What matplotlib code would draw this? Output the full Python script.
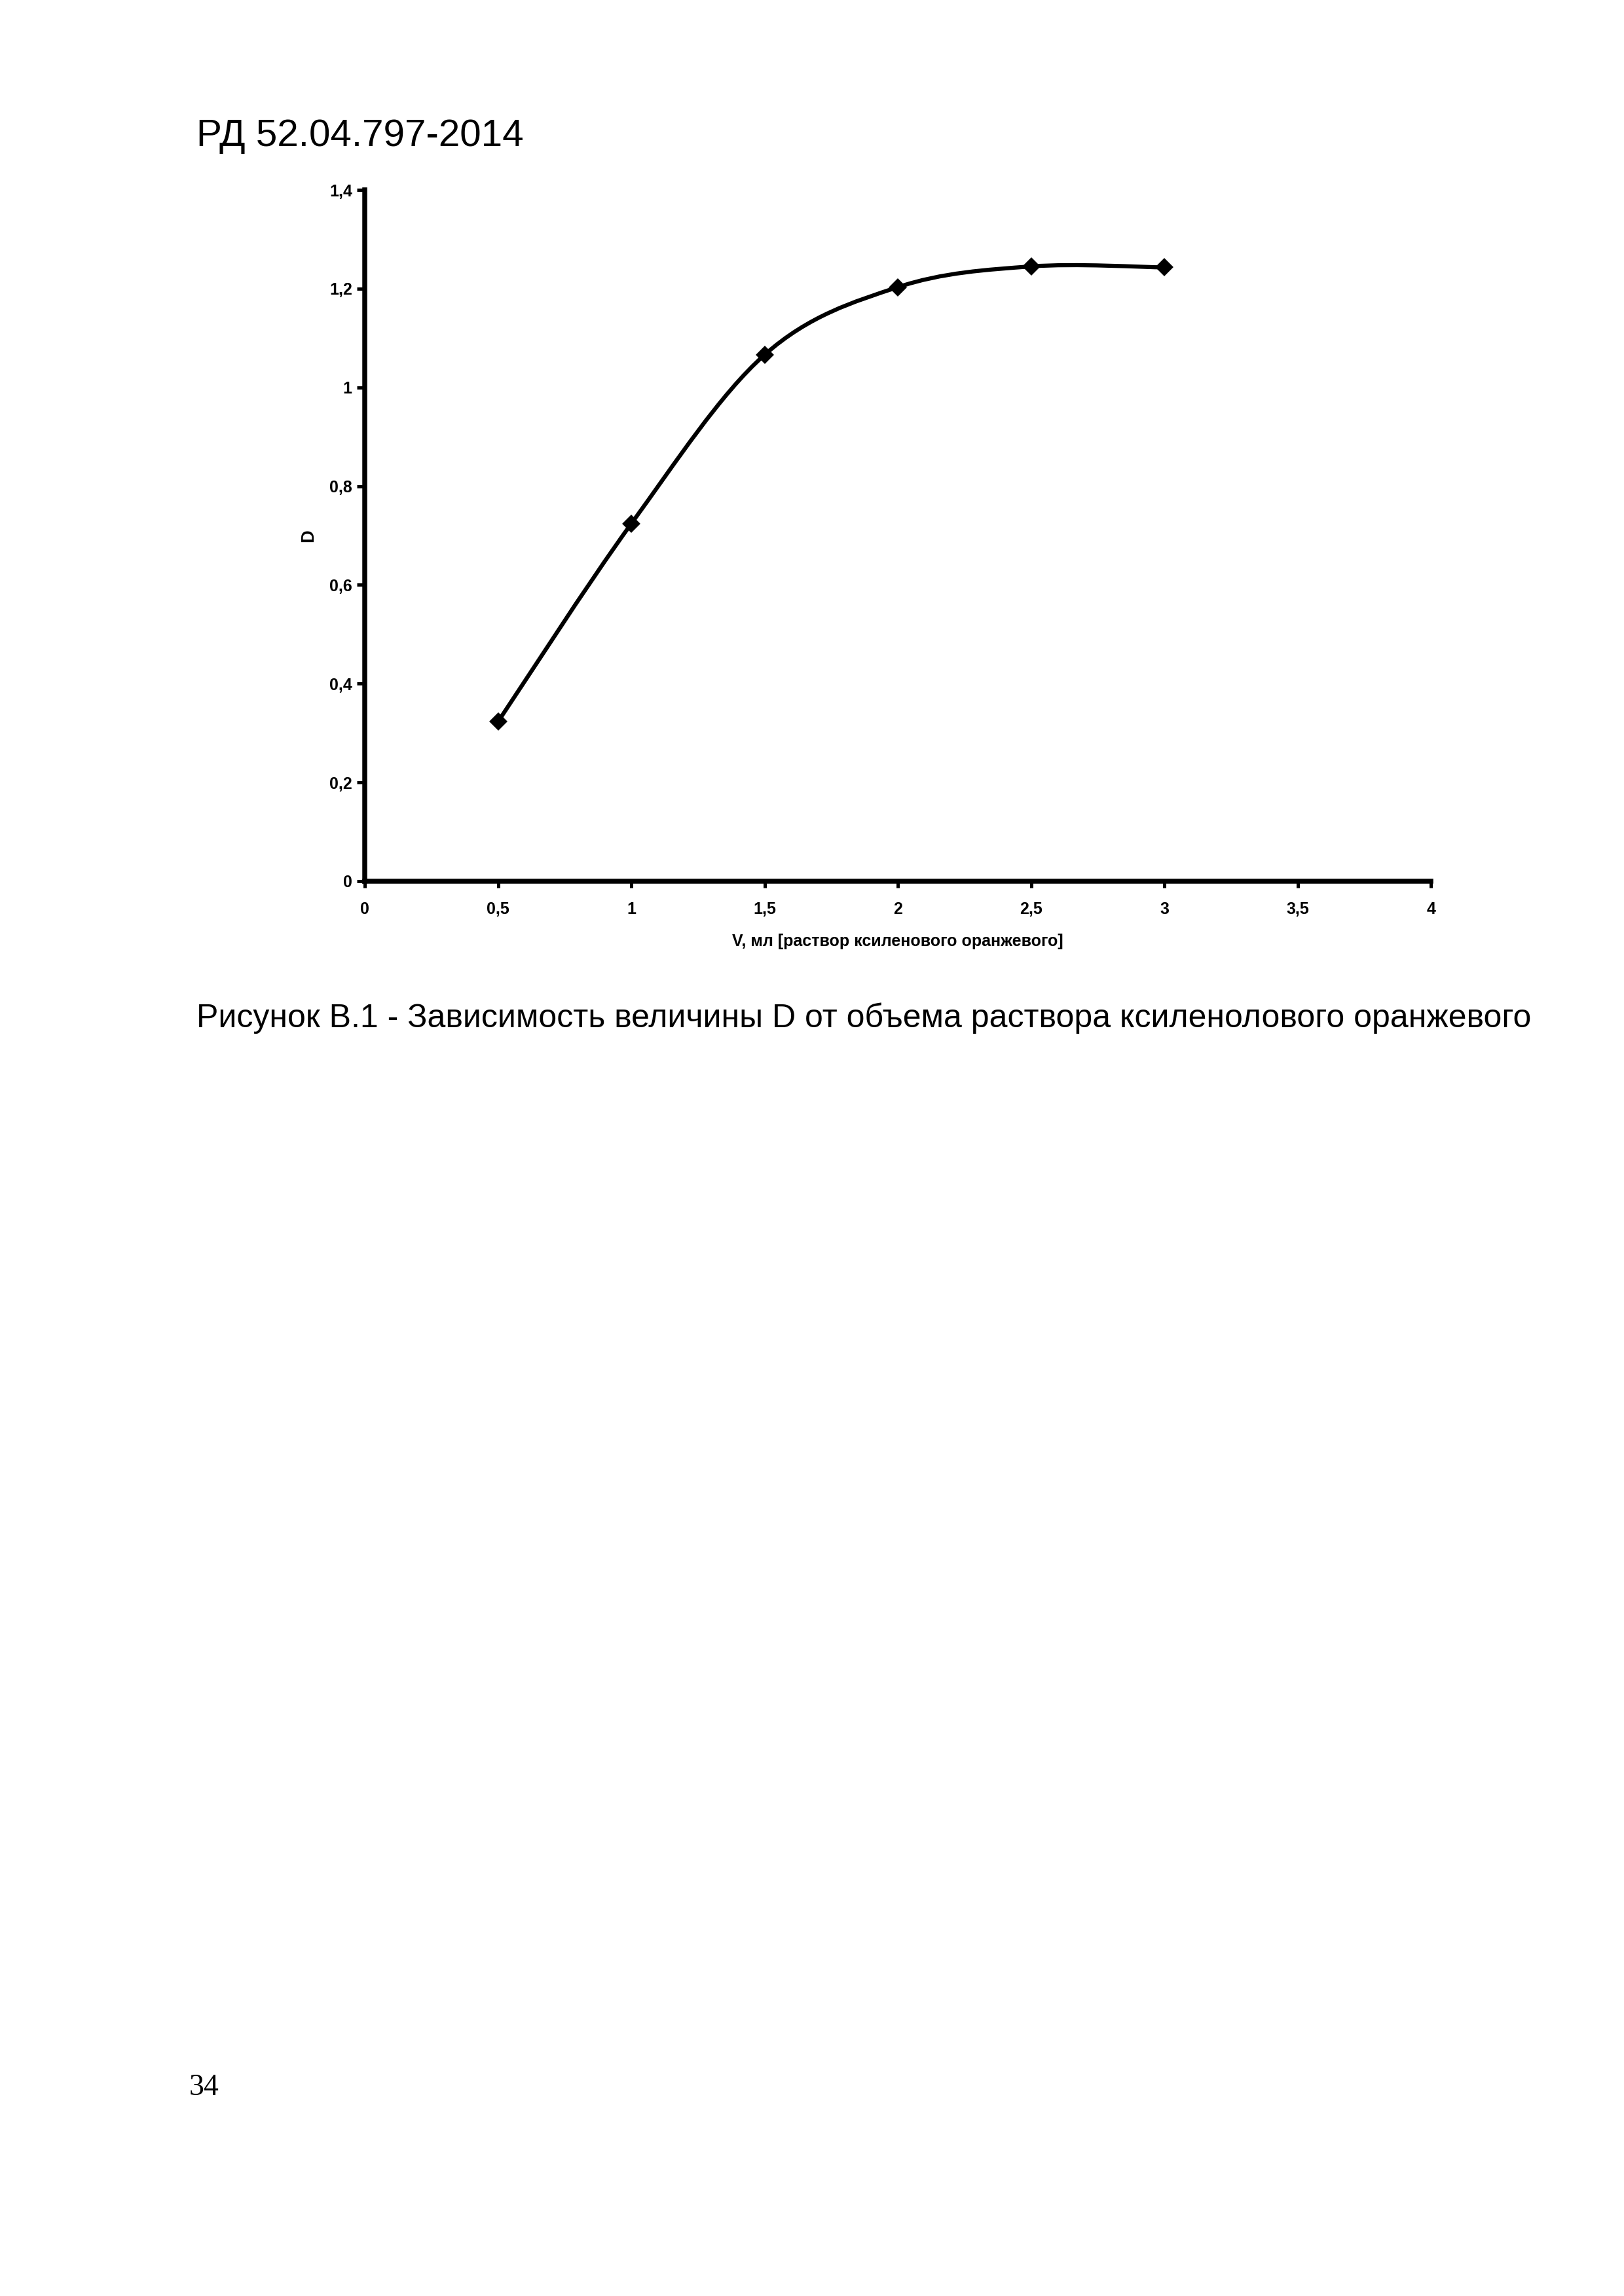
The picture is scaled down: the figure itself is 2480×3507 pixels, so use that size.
import numpy as np
import matplotlib
matplotlib.use('Agg')
import matplotlib.pyplot as plt
from matplotlib.path import Path
from matplotlib.patches import PathPatch

plt.rcParams['font.family'] = ['Liberation Sans', 'DejaVu Sans']

volume = [0.5, 1.0, 1.5, 2.0, 2.5, 3.0]
density = [0.323, 0.724, 1.066, 1.203, 1.245, 1.243]

x_ticks = [0, 0.5, 1, 1.5, 2, 2.5, 3, 3.5, 4]
x_tick_labels = ['0', '0,5', '1', '1,5', '2', '2,5', '3', '3,5', '4']
y_ticks = [0, 0.2, 0.4, 0.6, 0.8, 1.0, 1.2, 1.4]
y_tick_labels = ['0', '0,2', '0,4', '0,6', '0,8', '1', '1,2', '1,4']

header = 'РД 52.04.797-2014'
x_label = 'V, мл [раствор ксиленового оранжевого]'
y_label = 'D'
caption = 'Рисунок В.1 - Зависимость величины D от объема раствора ксиленолового оранжевого'
page_number = '34'


def smooth_path(xs, ys):
    # excel-like smoothed line: bezier segments with catmull-rom control points
    pts = np.column_stack([xs, ys])
    n = len(pts)
    verts = [pts[0]]
    codes = [Path.MOVETO]
    for i in range(n - 1):
        p0 = pts[max(i - 1, 0)]
        p1 = pts[i]
        p2 = pts[i + 1]
        p3 = pts[min(i + 2, n - 1)]
        c1 = p1 + (p2 - p0) / 6.0
        c2 = p2 - (p3 - p1) / 6.0
        verts += [c1, c2, p2]
        codes += [Path.CURVE4] * 3
    return Path(verts, codes)


fig = plt.figure(figsize=(2480 / 300, 3507 / 300), dpi=300)
ax = fig.add_axes([0.2246, 0.6162, 0.6565, 0.3011])

ax.add_patch(PathPatch(smooth_path(volume, density), fill=False, edgecolor='black', linewidth=1.5))
ax.plot(volume, density, linestyle='none', marker='D', markersize=3.6, color='black')

ax.set_xlim(0, 4)
ax.set_ylim(0, 1.4)
ax.set_xticks(x_ticks)
ax.set_xticklabels(x_tick_labels)
ax.set_yticks(y_ticks)
ax.set_yticklabels(y_tick_labels)

for side in ['top', 'right']:
    ax.spines[side].set_visible(False)
for side in ['left', 'bottom']:
    ax.spines[side].set_linewidth(1.8)

ax.tick_params(axis='x', direction='out', length=2.5, width=1.2, pad=5, labelsize=6)
ax.tick_params(axis='y', direction='out', length=2.8, width=1.2, pad=1.8, labelsize=6)
for lbl in ax.get_xticklabels() + ax.get_yticklabels():
    lbl.set_fontweight('bold')

ax.set_xlabel(x_label, fontsize=6, fontweight='bold', labelpad=6)
ax.set_ylabel(y_label, fontsize=6.5, fontweight='bold', labelpad=4.5)

fig.text(300 / 2480, 1 - 223 / 3507, header, fontsize=14, ha='left', va='baseline')
fig.text(300 / 2480, 1 - 1569 / 3507, caption, fontsize=12, ha='left', va='baseline')
fig.text(289 / 2480, 1 - 3200 / 3507, page_number, fontsize=11,
         family=['Liberation Serif', 'DejaVu Serif'], ha='left', va='baseline')

fig.savefig('out.png', dpi=300, facecolor='white')
